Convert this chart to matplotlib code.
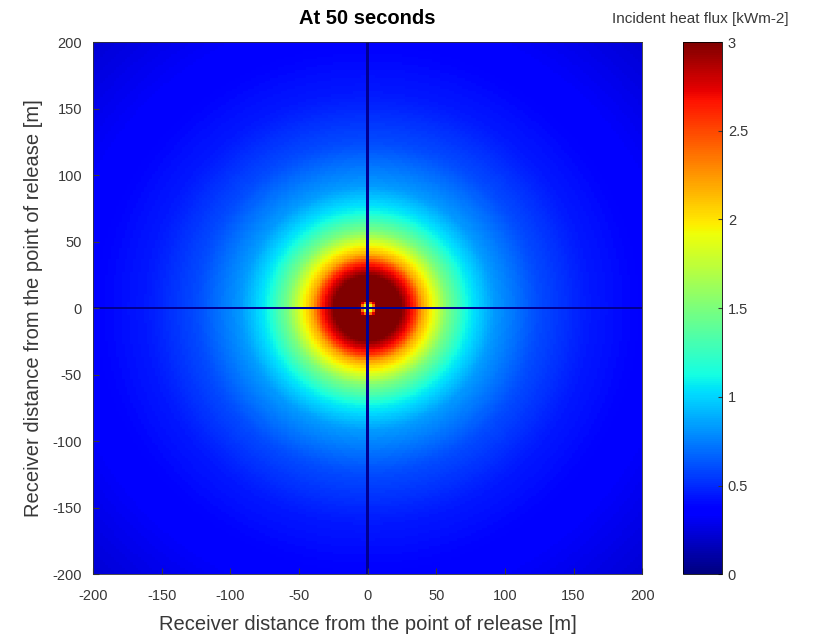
import numpy as np
import matplotlib
matplotlib.use("Agg")
import matplotlib.pyplot as plt

plt.rcParams['font.family'] = ['Liberation Sans', 'DejaVu Sans']
plt.rcParams['axes.unicode_minus'] = False

# Radial profile of incident heat flux (distance [m], flux [kW/m2])
radius_m = [0, 3, 7, 20, 28, 34, 40, 48, 58, 73, 92, 124, 160, 200, 240, 285]
flux_kw = [1.2, 1.9, 3.2, 3.2, 2.85, 2.6, 2.2, 1.9, 1.5, 1.1, 0.83, 0.6, 0.45, 0.37, 0.3, 0.22]
axis_line_flux = 0.05  # dark cross along x=0 and y=0

title = "At 50 seconds"
xlabel = "Receiver distance from the point of release [m]"
ylabel = "Receiver distance from the point of release [m]"
cbar_label = "Incident heat flux [kWm-2]"
ticks = [-200, -150, -100, -50, 0, 50, 100, 150, 200]
cbar_ticks = [0, 0.5, 1, 1.5, 2, 2.5, 3]
cbar_ticklabels = ['0', '0.5', '1', '1.5', '2', '2.5', '3']

step = 2.0
coords = np.arange(-200, 200 + step, step)
X, Y = np.meshgrid(coords, coords)
R = np.hypot(X, Y)
Z = np.interp(R, radius_m, flux_kw)
Z[np.isclose(X, 0)] = axis_line_flux
Z[np.isclose(Y, 0)] = axis_line_flux

fig = plt.figure(figsize=(8.17, 6.38), dpi=100)
ax = fig.add_axes([0.114, 0.100, 0.672, 0.834])
cax = fig.add_axes([0.836, 0.100, 0.048, 0.834])

mesh = ax.pcolormesh(coords, coords, Z, cmap='jet', vmin=0, vmax=3, shading='nearest')
ax.set_xlim(-200, 200)
ax.set_ylim(-200, 200)
ax.set_xticks(ticks)
ax.set_yticks(ticks)
ax.tick_params(direction='in', labelsize=10.5, colors='#383838', length=4)
ax.tick_params(axis='x', pad=11)
ax.tick_params(axis='y', pad=8)
ax.set_xlabel(xlabel, fontsize=14.5, color='#383838', labelpad=8)
ax.set_ylabel(ylabel, fontsize=14.5, color='#383838', labelpad=7)
ax.set_title(title, fontsize=14.5, fontweight='bold', pad=13)
for s in ax.spines.values():
    s.set_linewidth(0.6)
    s.set_color('#303030')

cb = fig.colorbar(mesh, cax=cax, ticks=cbar_ticks)
cb.ax.tick_params(direction='in', labelsize=10.5, colors='#383838', length=3, pad=4)
cb.ax.set_yticklabels(cbar_ticklabels)
cb.outline.set_linewidth(0.6)
fig.text(0.857, 0.971, cbar_label, fontsize=11, ha='center', va='center', color='#383838')

fig.savefig('out.png', dpi=100)
